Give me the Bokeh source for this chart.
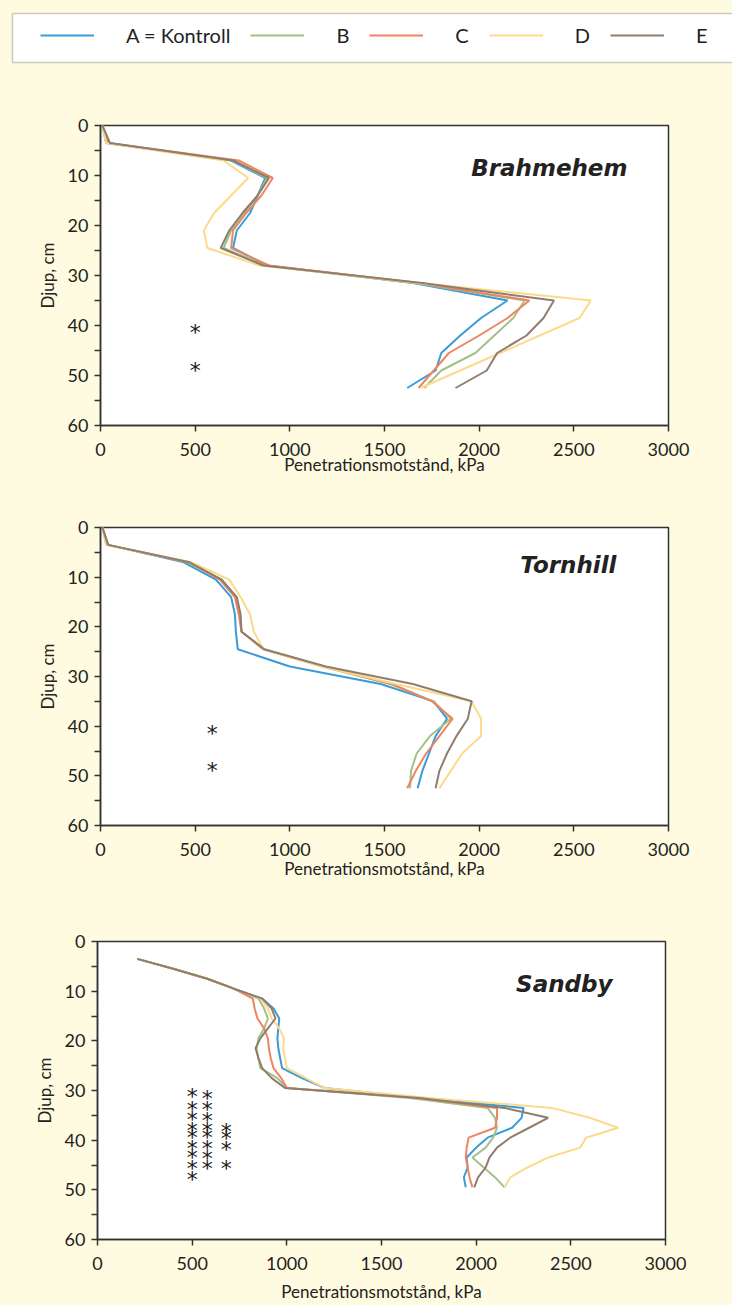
from bokeh.plotting import figure
from bokeh.models import Range1d, FixedTicker, Label, BoxAnnotation, Legend, LegendItem
from bokeh.embed import file_html
from bokeh.resources import INLINE
from bokeh.core.properties import value

BG = "#fffbe1"
FONT = "Lato"
INK = "#222222"
W = 732

# ---------------- data ----------------
series_names = ["A = Kontroll", "B", "C", "D", "E"]
series_colors = ["#3b9bd8", "#a3c088", "#ec8560", "#fdd98a", "#8f7d6d"]

x_ticks = [0, 500, 1000, 1500, 2000, 2500, 3000]
y_ticks = [0, 10, 20, 30, 40, 50, 60]
y_minor = [5, 15, 25, 35, 45, 55]

# Brahmehem
brahmehem_depth = [0, 3.5, 7, 10.5, 14, 17.5, 21, 24.5, 28, 31.5, 35, 38.5, 42, 45.5, 49, 52.5]
brahmehem_A = [10, 30, 690, 870, 830, 790, 720, 700, 880, 1650, 2150, 2010, 1900, 1800, 1770, 1620]
brahmehem_B = [10, 30, 700, 880, 830, 760, 690, 650, 870, 1660, 2240, 2180, 2080, 1980, 1800, 1710]
brahmehem_C = [10, 40, 730, 910, 850, 770, 700, 690, 890, 1680, 2265, 2150, 2000, 1840, 1760, 1680]
brahmehem_D = [10, 30, 650, 780, 690, 600, 545, 565, 840, 1680, 2590, 2530, 2320, 2110, 1900, 1690]
brahmehem_E = [10, 50, 700, 890, 830, 750, 680, 635, 860, 1700, 2395, 2340, 2250, 2095, 2040, 1875]
brahmehem_star_x = [500, 500]
brahmehem_star_y = [40.8, 48.4]

# Tornhill
tornhill_depth = [0, 3.5, 7, 10.5, 14, 17.5, 21, 24.5, 28, 31.5, 35, 38.5, 42, 45.5, 49, 52.5]
tornhill_A = [10, 40, 440, 610, 690, 710, 715, 725, 1000, 1480, 1760, 1830, 1770, 1735, 1700, 1675]
tornhill_B = [10, 30, 460, 640, 715, 735, 745, 860, 1170, 1530, 1760, 1850, 1740, 1670, 1640, 1635]
tornhill_C = [10, 40, 470, 630, 710, 730, 745, 860, 1180, 1540, 1750, 1860, 1790, 1720, 1665, 1620]
tornhill_D = [10, 30, 480, 680, 740, 790, 810, 860, 1170, 1560, 1960, 2010, 2010, 1910, 1850, 1790]
tornhill_E = [10, 40, 470, 640, 720, 740, 745, 865, 1190, 1650, 1960, 1940, 1880, 1830, 1790, 1770]
tornhill_star_x = [590, 590]
tornhill_star_y = [40.8, 48.3]

# Sandby
sandby_depth = [3.5, 5.5, 7.5, 9.5, 11.5, 13.5, 15.5, 17.5, 19.5, 21.5, 23.5, 25.5,
                27.5, 29.5, 31.5, 33.5, 35.5, 37.5, 39.5, 41.5, 43.5, 45.5, 47.5, 49.5]
sandby_A = [210, 400, 580, 720, 870, 930, 960, 955, 950, 955, 965, 975,
            1080, 1200, 1700, 2250, 2240, 2190, 2060, 2000, 1950, 1955, 1935, 1945]
sandby_B = [210, 400, 580, 720, 850, 880, 900, 880, 850, 840, 850, 860,
            950, 1000, 1650, 2060, 2100, 2110, 2090, 2050, 1980, 2040, 2100, 2150]
sandby_C = [210, 400, 580, 720, 820, 830, 845, 880, 900, 905, 915, 930,
            970, 1000, 1700, 2110, 2110, 2100, 1960, 1950, 1945, 1955, 1965, 1980]
sandby_D = [210, 400, 580, 720, 860, 900, 920, 960, 985, 980, 990, 1000,
            1100, 1200, 1750, 2400, 2600, 2750, 2580, 2550, 2380, 2270, 2180, 2150]
sandby_E = [210, 400, 580, 720, 870, 920, 940, 900, 860, 835, 850, 870,
            920, 990, 1700, 2150, 2380, 2280, 2180, 2110, 2070, 2050, 2010, 1990]
sandby_star_x = [500] * 9 + [580] * 8 + [680] * 4
sandby_star_y = [30.6, 33.3, 35.3, 37.5, 38.9, 41.0, 42.9, 45.1, 47.4,
                 31.0, 33.3, 35.5, 37.5, 38.9, 41.0, 43.1, 45.1,
                 37.7, 39.0, 41.2, 45.2]


def make_panel(title, depths, series, star_x, star_y, height, left, top, bottom,
               title_x, title_y, xlabel_standoff):
    p = figure(width=W, height=height, x_range=Range1d(0, 3000), y_range=Range1d(60, 0),
               output_backend="svg", toolbar_location=None,
               min_border_left=left, min_border_right=W - left - 568,
               min_border_top=top, min_border_bottom=bottom)
    p.background_fill_color = "white"
    p.border_fill_color = BG
    p.outline_line_color = "#333333"
    p.outline_line_width = 1.5
    p.xgrid.visible = False
    p.ygrid.visible = False

    for vals, c in zip(series, series_colors):
        p.line(vals, depths, line_color=c, line_width=2)

    p.text(x=star_x, y=star_y, text=["*"] * len(star_x), text_font=value("DejaVu Sans"),
           text_font_size="22px", text_align="center", text_baseline="middle",
           y_offset=3, text_color="#1a1a1a")

    p.add_layout(Label(x=title_x, y=title_y, text=title, text_align="right",
                       text_baseline="middle", text_font="DejaVu Sans",
                       text_font_style="bold italic", text_font_size="23px",
                       text_color=INK))

    p.xaxis.ticker = FixedTicker(ticks=x_ticks)
    p.yaxis.ticker = FixedTicker(ticks=y_ticks, minor_ticks=y_minor)
    p.xaxis.axis_label = "Penetrationsmotstånd, kPa"
    p.yaxis.axis_label = "Djup, cm"
    for ax in (p.xaxis[0], p.yaxis[0]):
        ax.axis_line_color = "#333333"
        ax.axis_line_width = 1.5
        ax.major_tick_line_color = "#333333"
        ax.minor_tick_line_color = "#333333"
        ax.major_tick_line_width = 1.5
        ax.minor_tick_line_width = 1.5
        ax.major_tick_in = 0
        ax.major_tick_out = 6
        ax.minor_tick_in = 0
        ax.minor_tick_out = 6
        ax.major_label_text_font = FONT
        ax.major_label_text_font_size = "18px"
        ax.major_label_text_color = INK
        ax.axis_label_text_font = FONT
        ax.axis_label_text_font_style = "normal"
        ax.axis_label_text_font_size = "17px"
        ax.axis_label_text_color = INK
    p.xaxis.major_label_standoff = 11
    p.xaxis.axis_label_standoff = xlabel_standoff
    p.yaxis.major_label_standoff = 6
    p.yaxis.axis_label_standoff = 7
    return p


# legend strip
leg = figure(width=W, height=80, x_range=Range1d(0, W), y_range=Range1d(80, 0),
             output_backend="svg", toolbar_location=None,
             x_axis_location=None, y_axis_location=None,
             min_border=0, min_border_left=0, min_border_right=0,
             min_border_top=0, min_border_bottom=0)
leg.xgrid.visible = False
leg.ygrid.visible = False
leg.outline_line_color = None
leg.background_fill_color = BG
leg.border_fill_color = BG
leg.add_layout(BoxAnnotation(left=12, right=W + 40, top=13, bottom=62, fill_color="white",
                             fill_alpha=1, line_color="#555555", line_width=1.5))
nan = float("nan")
rs = [leg.line(x=[nan], y=[nan], line_color=c, line_width=2) for c in series_colors]
legend = Legend(items=[LegendItem(label=n, renderers=[r]) for n, r in zip(series_names, rs)],
                orientation="horizontal", location=(30, 23),
                glyph_width=54, glyph_height=20, label_height=20, label_width=0,
                label_standoff=32, spacing=20, padding=10, margin=0,
                border_line_alpha=0, background_fill_alpha=0,
                label_text_font=FONT, label_text_font_size="20px", label_text_color=INK)
leg.add_layout(legend)

p1 = make_panel("Brahmehem", brahmehem_depth,
                [brahmehem_A, brahmehem_B, brahmehem_C, brahmehem_D, brahmehem_E],
                brahmehem_star_x, brahmehem_star_y,
                height=405, left=100, top=45, bottom=60,
                title_x=2783, title_y=8.4, xlabel_standoff=-5)
p2 = make_panel("Tornhill", tornhill_depth,
                [tornhill_A, tornhill_B, tornhill_C, tornhill_D, tornhill_E],
                tornhill_star_x, tornhill_star_y,
                height=405, left=100, top=42, bottom=65,
                title_x=2725, title_y=7.6, xlabel_standoff=-1)
p3 = make_panel("Sandby", sandby_depth,
                [sandby_A, sandby_B, sandby_C, sandby_D, sandby_E],
                sandby_star_x, sandby_star_y,
                height=415, left=97, top=51, bottom=66,
                title_x=2720, title_y=8.5, xlabel_standoff=8)

html = file_html([leg, p1, p2, p3], INLINE, title="Penetrationsmotstånd")
html = html.replace("</head>", "<style>html,body{background-color:#fffbe1;overflow:hidden;}</style></head>", 1)
open("out.html", "w").write(html)
